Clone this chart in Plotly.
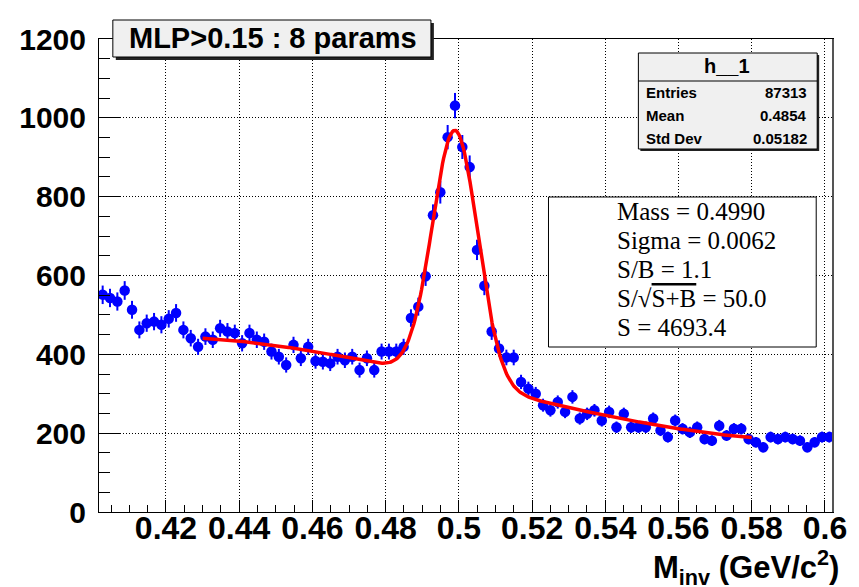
import numpy as np
import plotly.graph_objects as go

# ---------------- data ----------------
bin_lo, bin_hi, n_bins = 0.4017, 0.6022, 100
counts = [
    551, 543, 534, 562, 513, 462, 479, 483, 475, 490,
    505, 462, 441, 419, 445, 437, 466, 458, 454, 428,
    454, 437, 432, 407, 394, 373, 424, 390, 419, 383,
    381, 377, 394, 385, 394, 360, 390, 360, 407, 407,
    407, 419, 492, 521, 598, 753, 811, 951, 1031, 926,
    875, 665, 574, 458, 415, 392, 392, 330, 313, 300,
    271, 258, 279, 254, 292, 237, 249, 258, 232, 254,
    215, 249, 215, 215, 215, 237, 207, 190, 232, 211,
    202, 215, 185, 181, 219, 194, 211, 211, 185, 177,
    164, 190, 185, 190, 185, 181, 164, 177, 190, 190,
]
fit_lo, fit_hi = 0.43, 0.58
fit_mass, fit_sigma = 0.4990, 0.0062

title_text = "MLP>0.15 : 8 params"
stats_title = "h__1"
stats_labels = ["Entries", "Mean", "Std Dev"]
stats_values = ["87313", "0.4854", "0.05182"]
fit_lines = [
    "Mass = 0.4990",
    "Sigma = 0.0062",
    "S/B = 1.1",
    "S/\u221a<span style='text-decoration:overline'>S+B</span> = 50.0",
    "S = 4693.4",
]
x_tick_vals = [0.42, 0.44, 0.46, 0.48, 0.50, 0.52, 0.54, 0.56, 0.58, 0.60]
x_tick_text = ["0.42", "0.44", "0.46", "0.48", "0.5", "0.52", "0.54", "0.56", "0.58", "0.6"]
y_tick_vals = [0, 200, 400, 600, 800, 1000, 1200]

# ---------------- derived ----------------
w = (bin_hi - bin_lo) / n_bins
x = bin_lo + (np.arange(n_bins) + 0.5) * w
y = np.array(counts, dtype=float)
err = np.sqrt(y)

def basis(xx):
    g = np.exp(-0.5 * ((xx - fit_mass) / fit_sigma) ** 2)
    u = xx - 0.5
    return np.column_stack([g, np.ones_like(xx), u, u ** 2, u ** 3])

sel = (x >= fit_lo) & (x <= fit_hi)
A = basis(x[sel]) / err[sel][:, None]
b = y[sel] / err[sel]
coef, *_ = np.linalg.lstsq(A, b, rcond=None)
xf = np.linspace(fit_lo, fit_hi, 500)
yf = basis(xf) @ coef

# ---------------- figure ----------------
W, H = 859, 587
L, R, T, B = 99, 842, 39, 512

def px(xp):
    return (xp - L) / (R - L)

def py(yp):
    return (B - yp) / (B - T)

fig = go.Figure()
fig.add_trace(go.Scatter(
    x=x, y=y, mode="markers",
    marker=dict(color="#0000ff", size=10.5, line=dict(width=0)),
    error_y=dict(type="data", array=err, color="#0000ff", thickness=2, width=0),
    error_x=dict(type="constant", value=w / 2, color="#0000ff", thickness=2, width=0),
    showlegend=False, hoverinfo="skip",
))
fig.add_trace(go.Scatter(
    x=xf, y=yf, mode="lines",
    line=dict(color="#ff0000", width=3.5),
    showlegend=False, hoverinfo="skip",
))

xfont = dict(family="Liberation Sans", size=32, color="black", weight="bold")
yfont = dict(family="Liberation Sans", size=30, color="black", weight="bold")
fig.update_xaxes(
    range=[bin_lo, bin_hi], tickmode="array", tickvals=x_tick_vals, ticktext=x_tick_text,
    ticks="inside", ticklen=12, tickcolor="black", tickwidth=1,
    showline=True, linecolor="black", linewidth=1, mirror=True,
    showgrid=True, gridcolor="black", gridwidth=1, griddash="1px,2px",
    zeroline=False, tickfont=xfont, ticklabelstandoff=-12,
    minor=dict(dtick=0.005, tick0=0.4, ticks="inside", ticklen=7, tickcolor="black", showgrid=False),
)
fig.update_yaxes(
    range=[0, 1200], tickmode="array", tickvals=y_tick_vals,
    ticks="inside", ticklen=22, tickcolor="black", tickwidth=1,
    showline=True, linecolor="black", linewidth=1, mirror=True,
    showgrid=True, gridcolor="black", gridwidth=1, griddash="1px,2px",
    zeroline=False, tickfont=yfont, ticklabelstandoff=6,
    minor=dict(dtick=50, tick0=0, ticks="inside", ticklen=11, tickcolor="black", showgrid=False),
)

shapes = []
annotations = []
# right frame edge (grey, slightly thicker as in the reference)
shapes.append(dict(type="line", xref="paper", yref="paper", x0=1, x1=1, y0=0, y1=1,
                   line=dict(color="#555555", width=2), layer="above"))
# title box with shadow
shapes.append(dict(type="rect", xref="paper", yref="paper", x0=px(116), x1=px(438), y0=py(60), y1=py(23),
                   fillcolor="#222222", line=dict(width=0), layer="above"))
shapes.append(dict(type="rect", xref="paper", yref="paper", x0=px(113), x1=px(435), y0=py(57), y1=py(20),
                   fillcolor="#f0f0f0", line=dict(color="black", width=1), layer="above"))
annotations.append(dict(xref="paper", yref="paper", x=px(275), y=py(38), text=title_text, showarrow=False,
                        xanchor="center", yanchor="middle",
                        font=dict(family="Liberation Sans", size=29, color="black", weight="bold")))
# stats box
shapes.append(dict(type="rect", xref="paper", yref="paper", x0=px(647), x1=px(828), y0=py(151), y1=py(55),
                   fillcolor="#222222", line=dict(width=0), layer="above"))
shapes.append(dict(type="rect", xref="paper", yref="paper", x0=px(645), x1=px(826), y0=py(149), y1=py(53),
                   fillcolor="#f0f0f0", line=dict(color="black", width=1), layer="above"))
shapes.append(dict(type="line", xref="paper", yref="paper", x0=px(645), x1=px(826), y0=py(81), y1=py(81),
                   line=dict(color="black", width=1), layer="above"))
annotations.append(dict(xref="paper", yref="paper", x=px(735), y=py(66), text=stats_title, showarrow=False,
                        xanchor="center", yanchor="middle",
                        font=dict(family="Liberation Sans", size=20, color="black", weight="bold")))
for i, (lab, val) in enumerate(zip(stats_labels, stats_values)):
    yy = py(92 + i * 23.3)
    annotations.append(dict(xref="paper", yref="paper", x=px(651), y=yy, text=lab, showarrow=False,
                            xanchor="left", yanchor="middle",
                            font=dict(family="Liberation Sans", size=15, color="black", weight="bold")))
    annotations.append(dict(xref="paper", yref="paper", x=px(818), y=yy, text=val, showarrow=False,
                            xanchor="right", yanchor="middle",
                            font=dict(family="Liberation Sans", size=15, color="black", weight="bold")))
# fit box
shapes.append(dict(type="rect", xref="paper", yref="paper", x0=px(554), x1=px(825), y0=py(347), y1=py(197),
                   fillcolor="white", line=dict(color="black", width=1), layer="above"))
for i, t in enumerate(fit_lines):
    annotations.append(dict(xref="paper", yref="paper", x=px(621), y=py(211 + i * 29.2), text=t, showarrow=False,
                            xanchor="left", yanchor="middle",
                            font=dict(family="Liberation Serif", size=25, color="black")))
# x axis title
annotations.append(dict(xref="paper", yref="paper", x=px(850), y=py(567),
                        text="<b>M<sub>inv</sub> (GeV/c<sup>2</sup>)</b>", showarrow=False,
                        xanchor="right", yanchor="middle",
                        font=dict(family="Liberation Sans", size=31, color="black")))

fig.update_layout(
    width=W, height=H, autosize=False,
    margin=dict(l=L, r=W - R, t=T, b=H - B, pad=0),
    paper_bgcolor="white", plot_bgcolor="white",
    shapes=shapes, annotations=annotations, showlegend=False,
)
fig.write_html("out.html")
